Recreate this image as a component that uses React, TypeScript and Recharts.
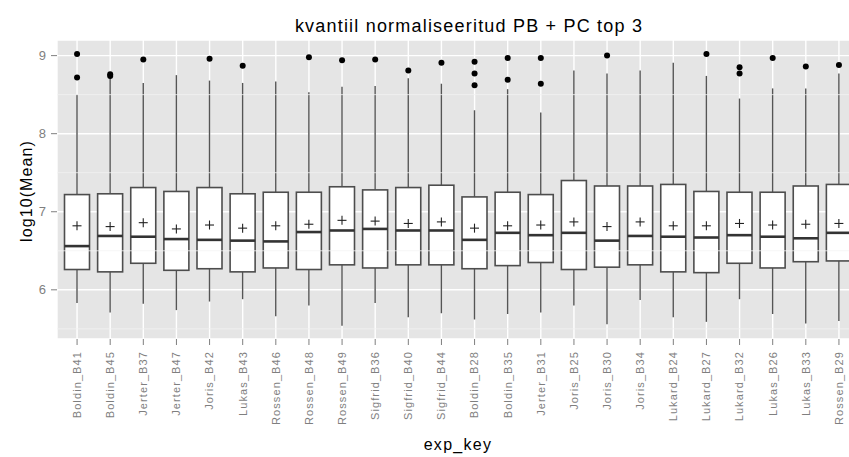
import React from "react"
import {
  ComposedChart,
  Bar,
  Line,
  XAxis,
  YAxis,
  CartesianGrid,
  ReferenceLine,
  Customized,
} from "recharts"

const categories = [
  "Boldin_B41", "Boldin_B45", "Jerter_B37", "Jerter_B47", "Joris_B42", "Lukas_B43",
  "Rossen_B46", "Rossen_B48", "Rossen_B49", "Sigfrid_B36", "Sigfrid_B40", "Sigfrid_B44",
  "Boldin_B28", "Boldin_B35", "Jerter_B31", "Joris_B25", "Joris_B30", "Joris_B34",
  "Lukard_B24", "Lukard_B27", "Lukard_B32", "Lukas_B26", "Lukas_B33", "Rossen_B29",
]

const whiskerLow = [
  5.83, 5.71, 5.82, 5.74, 5.85, 5.88, 5.66, 5.80, 5.54, 5.83, 5.65, 5.70,
  5.62, 5.69, 5.71, 5.80, 5.56, 5.87, 5.65, 5.59, 5.88, 5.69, 5.57, 5.60,
]
const q1 = [
  6.26, 6.23, 6.34, 6.25, 6.27, 6.23, 6.28, 6.26, 6.32, 6.28, 6.32, 6.32,
  6.27, 6.31, 6.35, 6.26, 6.29, 6.32, 6.23, 6.22, 6.34, 6.28, 6.36, 6.37,
]
const median = [
  6.56, 6.69, 6.68, 6.65, 6.64, 6.63, 6.62, 6.74, 6.76, 6.78, 6.76, 6.76,
  6.64, 6.73, 6.70, 6.73, 6.63, 6.69, 6.68, 6.67, 6.70, 6.68, 6.66, 6.73,
]
const q3 = [
  7.22, 7.23, 7.31, 7.26, 7.31, 7.23, 7.25, 7.25, 7.32, 7.28, 7.31, 7.34,
  7.19, 7.25, 7.22, 7.40, 7.33, 7.33, 7.35, 7.26, 7.25, 7.25, 7.33, 7.35,
]
const whiskerHigh = [
  8.50, 8.72, 8.65, 8.75, 8.68, 8.65, 8.67, 8.53, 8.60, 8.61, 8.71, 8.64,
  8.30, 8.57, 8.27, 8.81, 8.77, 8.81, 8.91, 8.74, 8.45, 8.58, 8.58, 8.77,
]
const means = [
  6.82, 6.81, 6.86, 6.78, 6.83, 6.79, 6.82, 6.84, 6.89, 6.88, 6.85, 6.87,
  6.79, 6.82, 6.83, 6.87, 6.81, 6.87, 6.82, 6.82, 6.85, 6.83, 6.84, 6.85,
]
const outliers: number[][] = [
  [9.02, 8.72], [8.76, 8.74], [8.95], [], [8.96], [8.87],
  [], [8.98], [8.94], [8.95], [8.81], [8.91],
  [8.92, 8.77, 8.62], [8.97, 8.69], [8.97, 8.64], [], [9.0], [],
  [], [9.02], [8.85, 8.77], [8.97], [8.86], [8.88],
]

const yTicks = [6, 7, 8, 9]
const minorTicks = [5.5, 6.5, 7.5, 8.5]

const rows = categories.map((key, i) => ({
  key,
  range: [whiskerLow[i], whiskerHigh[i]],
  q1: q1[i],
  median: median[i],
  q3: q3[i],
  mean: means[i],
  out0: outliers[i][0] ?? null,
  out1: outliers[i][1] ?? null,
  out2: outliers[i][2] ?? null,
}))

const FONT = "'Liberation Sans', Arial, sans-serif"
const AXIS_GREY = "#7f7f7f"

// box + whiskers + mean marker, positioned from the bar's whisker range
function BoxShape(props: any) {
  const { x, y, width, height, payload } = props
  const [lo, hi] = payload.range
  const toY = (v: number) => y + ((hi - v) / (hi - lo)) * height
  const cx = x + width / 2
  const yq3 = toY(payload.q3)
  const yq1 = toY(payload.q1)
  const ym = toY(payload.mean)
  return (
    <g>
      <line x1={cx} x2={cx} y1={toY(hi)} y2={yq3} stroke="#555" strokeWidth={1.4} />
      <line x1={cx} x2={cx} y1={yq1} y2={toY(lo)} stroke="#555" strokeWidth={1.4} />
      <rect x={x} y={yq3} width={width} height={yq1 - yq3} fill="#fff" stroke="#4d4d4d" strokeWidth={1.6} />
      <line x1={x} x2={x + width} y1={toY(payload.median)} y2={toY(payload.median)} stroke="#333" strokeWidth={2.6} />
      <line x1={cx - 4.5} x2={cx + 4.5} y1={ym} y2={ym} stroke="#222" strokeWidth={1.1} />
      <line x1={cx} x2={cx} y1={ym - 4.5} y2={ym + 4.5} stroke="#222" strokeWidth={1.1} />
    </g>
  )
}

function XTick(props: any) {
  const { x, y, payload } = props
  return (
    <text
      x={x}
      y={y + 4}
      transform={`rotate(-90, ${x}, ${y + 4})`}
      textAnchor="end"
      dy="0.35em"
      fill={AXIS_GREY}
      fontSize={11}
      letterSpacing={1.1}
      fontFamily={FONT}
    >
      {payload.value}
    </text>
  )
}

function Titles() {
  return (
    <g fontFamily={FONT} fill="#000">
      <text x={469} y={32} textAnchor="middle" fontSize={18} letterSpacing={1.2}>
        kvantiil normaliseeritud PB + PC top 3
      </text>
      <text x={26} y={191} textAnchor="middle" fontSize={16} letterSpacing={1.1}
        transform="rotate(-90, 26, 191)" dy="0.35em">
        log10(Mean)
      </text>
      <text x={458} y={450} textAnchor="middle" fontSize={16} letterSpacing={1.3}>
        exp_key
      </text>
    </g>
  )
}

export default function App() {
  return (
    <div style={{ position: "absolute", left: 0, top: 0, width: 849, height: 457, overflow: "hidden", background: "#fff" }}>
      <ComposedChart
        width={870}
        height={457}
        data={rows}
        margin={{ top: 40, right: 11, bottom: 0, left: 0 }}
      >
        <CartesianGrid fill="#e5e5e5" fillOpacity={1} stroke="#fff" strokeWidth={1.4} />
        {minorTicks.map((v) => (
          <ReferenceLine key={v} y={v} stroke="#f2f2f2" strokeWidth={0.8} />
        ))}
        <XAxis
          dataKey="key"
          interval={0}
          height={118}
          padding={{ left: 3.5, right: 3.5 }}
          axisLine={false}
          tickSize={6}
          tickLine={{ stroke: AXIS_GREY }}
          tick={<XTick />}
        />
        <YAxis
          type="number"
          width={57}
          domain={[5.37, 9.2]}
          ticks={yTicks}
          allowDataOverflow
          axisLine={false}
          tickSize={6}
          tickMargin={5}
          tickLine={{ stroke: AXIS_GREY }}
          tick={{ fill: AXIS_GREY, fontSize: 13, fontFamily: FONT }}
        />
        <Bar dataKey="range" barSize={25} shape={<BoxShape />} isAnimationActive={false} />
        {["out0", "out1", "out2"].map((k) => (
          <Line
            key={k}
            dataKey={k}
            stroke="none"
            dot={{ r: 3, fill: "#000", stroke: "none" }}
            activeDot={false}
            isAnimationActive={false}
          />
        ))}
        <Customized component={<Titles />} />
      </ComposedChart>
    </div>
  )
}
